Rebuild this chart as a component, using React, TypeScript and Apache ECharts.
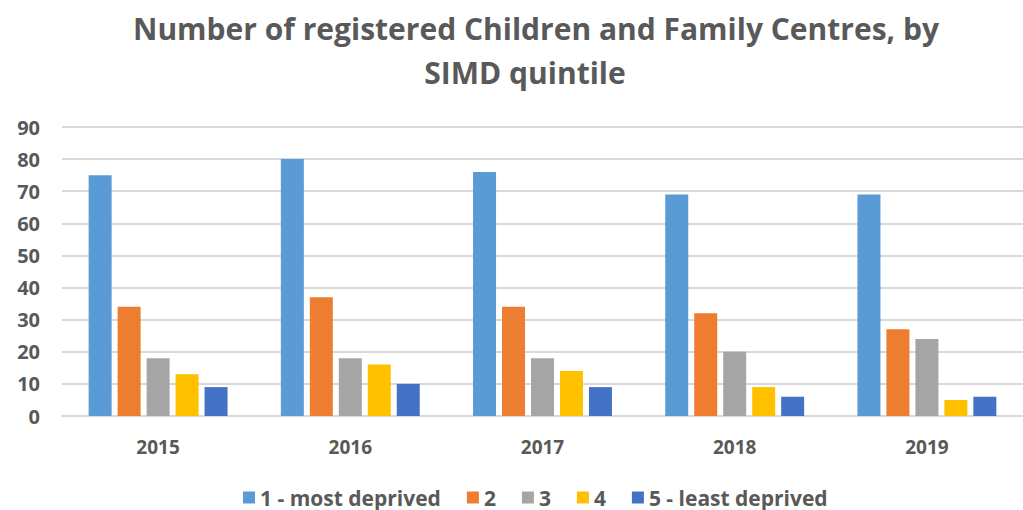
import React, { useEffect, useRef } from "react";
import * as echarts from "echarts";

const categories = ["2015", "2016", "2017", "2018", "2019"];
const seriesNames = ["1 - most deprived", "2", "3", "4", "5 - least deprived"];
const q1 = [75, 80, 76, 69, 69];
const q2 = [34, 37, 34, 32, 27];
const q3 = [18, 18, 18, 20, 24];
const q4 = [13, 16, 14, 9, 5];
const q5 = [9, 10, 9, 6, 6];
const colors = ["#5B9BD5", "#ED7D31", "#A5A5A5", "#FFC000", "#4472C4"];
const titleLine1 = "Number of registered Children and Family Centres, by";
const titleLine2 = "SIMD quintile";

export default function App() {
  const ref = useRef<HTMLDivElement>(null);
  useEffect(() => {
    if (!ref.current) return;
    const chart = echarts.init(ref.current, undefined, { renderer: "svg" });
    const font = "'Open Sans', Lato, sans-serif";
    const textColor = "#595959";
    const data = [q1, q2, q3, q4, q5];
    chart.setOption({
      animation: false,
      backgroundColor: "#ffffff",
      graphic: [
        {
          type: "text",
          x: 536,
          y: 28,
          style: {
            text: titleLine1,
            align: "center",
            verticalAlign: "middle",
            fill: textColor,
            font: `bold 30px ${font}`,
          },
        },
        {
          type: "text",
          x: 525,
          y: 72,
          style: {
            text: titleLine2,
            align: "center",
            verticalAlign: "middle",
            fill: textColor,
            font: `bold 30px ${font}`,
          },
        },
      ],
      legend: {
        left: 243,
        top: 487,
        itemWidth: 12,
        itemHeight: 12,
        itemGap: 26,
        icon: "rect",
        padding: 0,
        textStyle: {
          color: textColor,
          fontSize: 21,
          fontWeight: "bold",
          fontFamily: font,
          lineHeight: 20,
        },
        data: seriesNames,
      },
      grid: { left: 62, right: -4, top: 127, bottom: 94, containLabel: false },
      xAxis: {
        type: "category",
        data: categories,
        axisLine: { lineStyle: { color: "#D9D9D9", width: 2 } },
        axisTick: { show: false },
        axisLabel: {
          color: textColor,
          fontSize: 19,
          fontWeight: "bold",
          fontFamily: font,
          margin: 21,
        },
      },
      yAxis: {
        type: "value",
        min: 0,
        max: 90,
        interval: 10,
        axisLine: { show: false },
        axisTick: { show: false },
        splitLine: { lineStyle: { color: "#D9D9D9", width: 2 } },
        axisLabel: {
          color: textColor,
          fontSize: 20,
          fontWeight: "bold",
          fontFamily: font,
          margin: 22,
        },
      },
      series: seriesNames.map((name, i) => ({
        name,
        type: "bar",
        data: data[i],
        barWidth: 23,
        barGap: "26%",
        itemStyle: { color: colors[i] },
      })),
    });
    return () => chart.dispose();
  }, []);
  return (
    <div
      ref={ref}
      style={{ position: "fixed", left: 0, top: 0, width: 1023, height: 510 }}
    />
  );
}
